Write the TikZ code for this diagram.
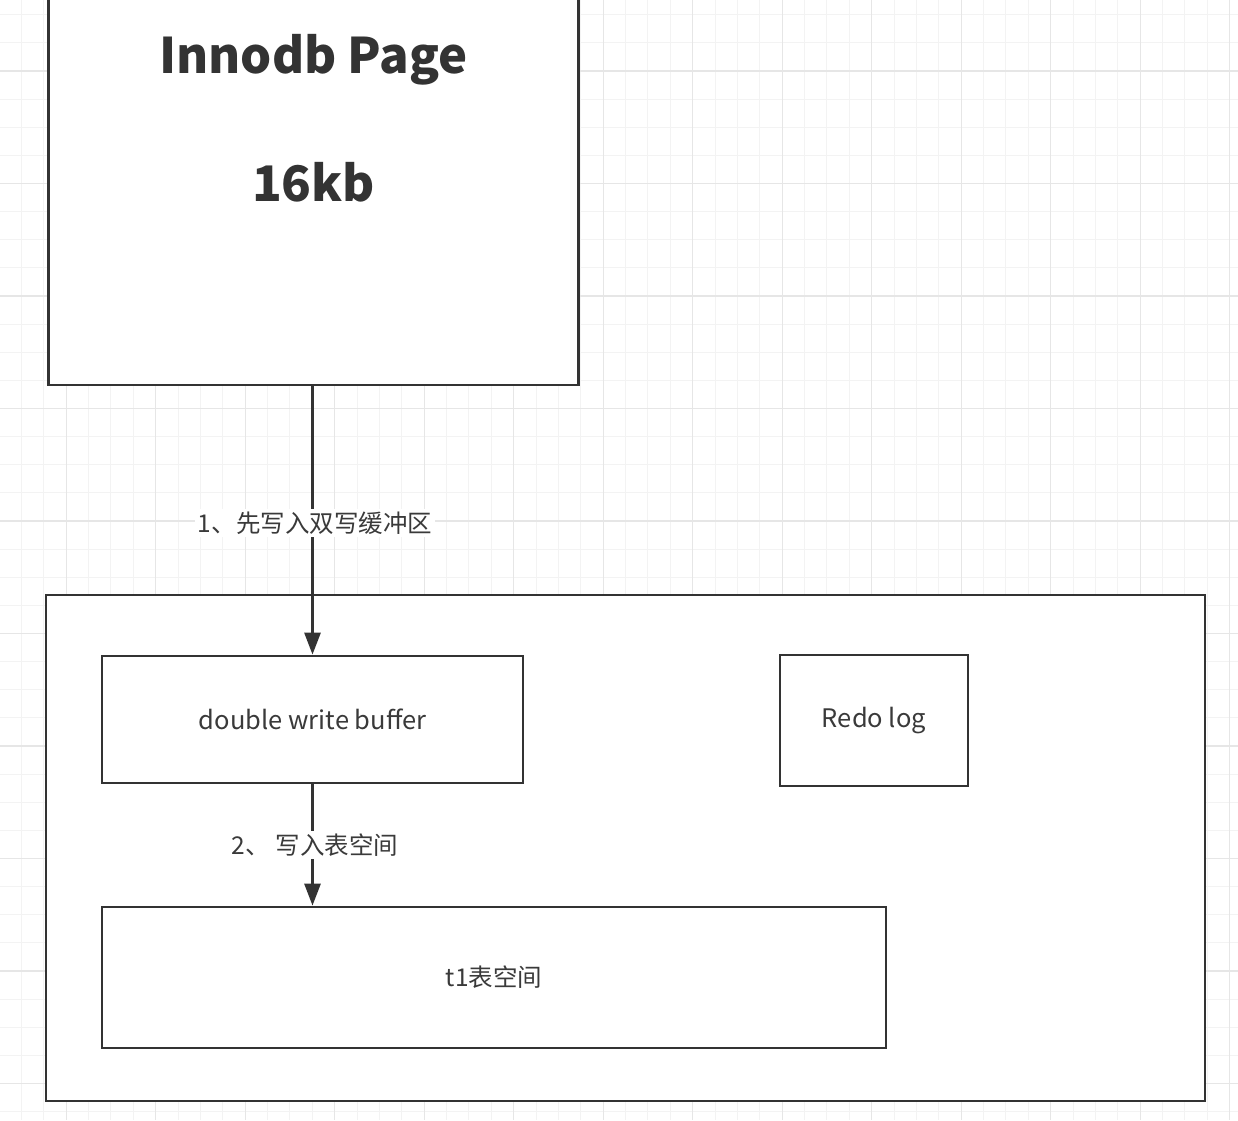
\documentclass[tikz,border=0pt]{standalone}
\usepackage{fontspec}
\setmainfont{Noto Sans CJK SC}
\usetikzlibrary{arrows.meta}
\definecolor{ink}{HTML}{333333}
\definecolor{txt}{HTML}{3A3A3A}
\definecolor{gminor}{HTML}{F3F3F3}
\definecolor{gmajor}{HTML}{E6E6E6}
\tikzset{
  box/.style={draw=ink, line width=2.8pt, fill=white, inner sep=0pt, text=txt,
    font=\fontsize{25.5}{30}\selectfont},
  cjkbox/.style={box, font=\fontsize{24.5}{29}\selectfont},
  bigtxt/.style={text=ink, font=\fontsize{49}{60}\selectfont\bfseries, inner sep=0pt},
  flow/.style={draw=ink, line width=2.8pt, -{Triangle[length=22pt,width=16pt]}},
  lbl/.style={fill=white, text=txt, inner sep=3pt, font=\fontsize{24.5}{29}\selectfont},
  gminorline/.style={draw=gminor, line width=1pt},
  gmajorline/.style={draw=gmajor, line width=1.2pt}
}
\begin{document}
\begin{tikzpicture}[x=1pt,y=-1pt]
\useasboundingbox (0,0) rectangle (1238,1120);
\clip (0,0) rectangle (1238,1120);
\fill[white] (0,0) rectangle (1238,1120);
% grid
\foreach \i in {0,...,55} { \draw[gminorline] ({21.45+22.375*\i},0) -- ({21.45+22.375*\i},1120); }
\foreach \i in {0,...,39} { \draw[gminorline] (0,{14.75+28.125*\i}) -- (1238,{14.75+28.125*\i}); }
\foreach \i in {0,...,13} { \draw[gmajorline] ({66.2+89.5*\i},0) -- ({66.2+89.5*\i},1120); }
\foreach \i in {0,...,9} { \draw[gmajorline] (0,{71+112.5*\i}) -- (1238,{71+112.5*\i}); }
% boxes
\node[box, minimum width=530pt, minimum height=406pt] (page) at (313.5,182) {};
\node[bigtxt] (title) at (313.5,60) {Innodb Page};
\node[bigtxt] (size) at (313.5,182) {16kb};
\node[box, minimum width=1159pt, minimum height=506pt] (outer) at (625.5,848) {};
\node[box, minimum width=421pt, minimum height=127pt] (dwb) at (312.5,719.5) {double write buffer};
\node[box, minimum width=188pt, minimum height=131pt] (redo) at (874,720.5) {Redo log};
\node[cjkbox, minimum width=784pt, minimum height=141pt] (t1) at (494,977.5) {t1表空间};
% arrows
\coordinate (a1) at (page.south -| dwb.north);
\coordinate (b2) at (dwb.south |- t1.north);
\draw[flow] (a1) -- (dwb.north);
\draw[flow] (dwb.south) -- (b2);
\node[lbl] (l1) at (315,523) {1、先写入双写缓冲区};
\node[lbl] (l2) at (315,845) {2、 写入表空间};
\end{tikzpicture}
\end{document}
